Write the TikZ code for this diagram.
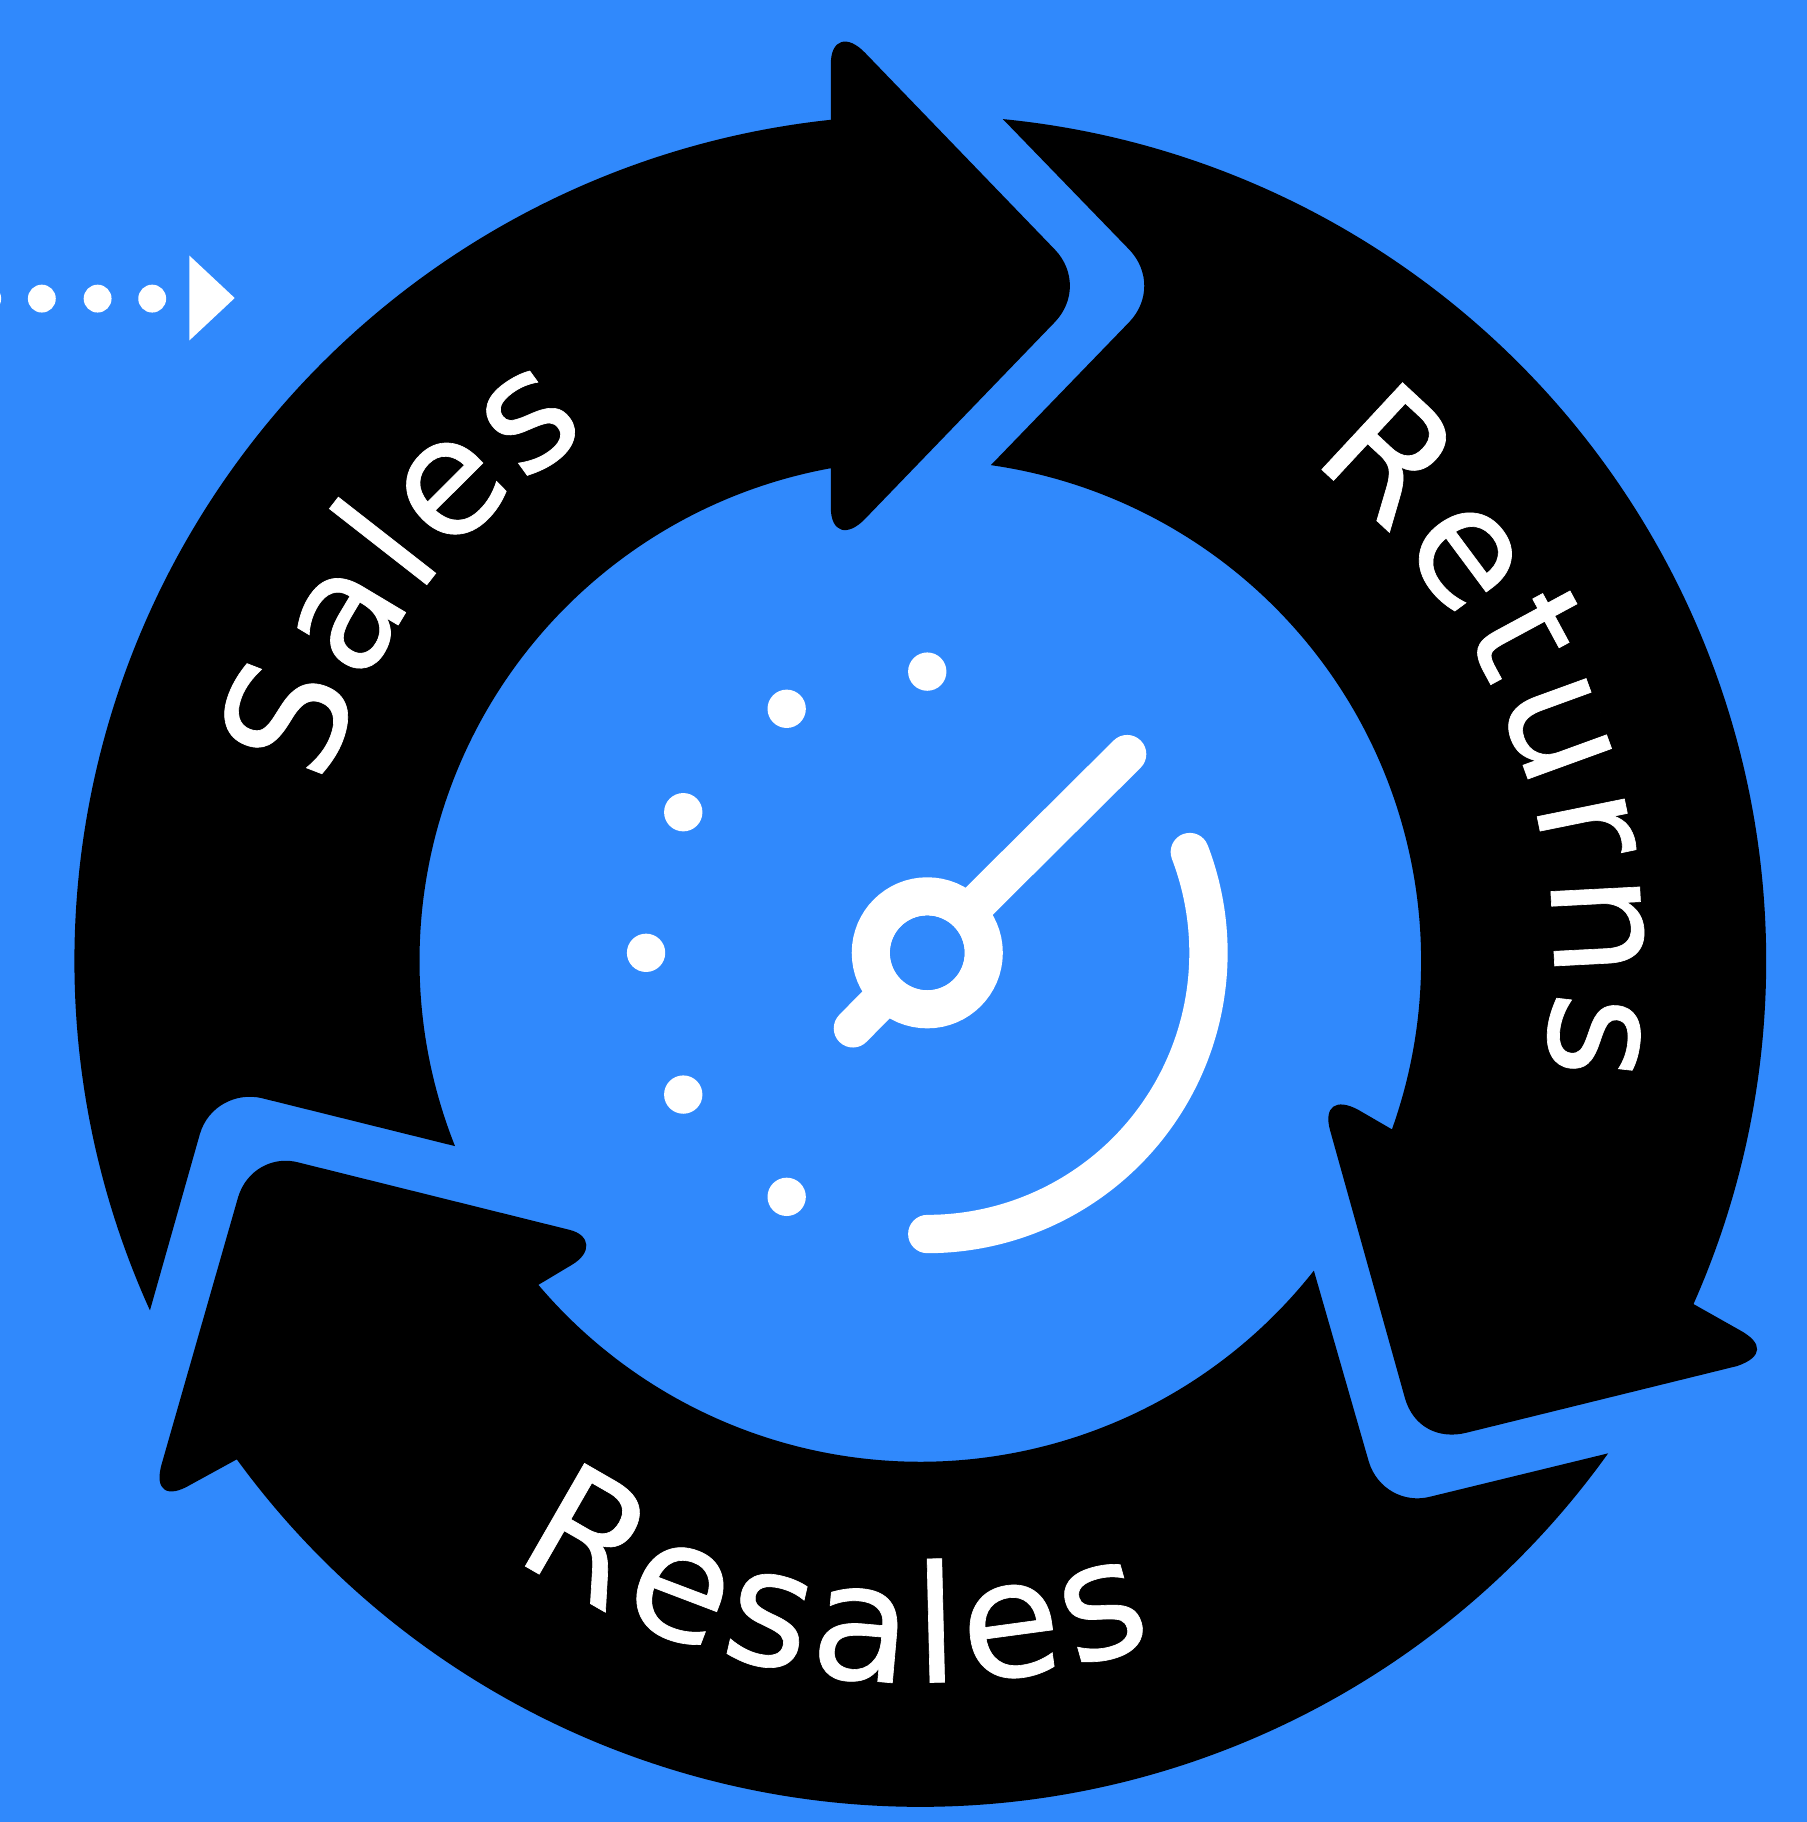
\documentclass[tikz,border=0pt]{standalone}
\usepackage{fontspec}
\usetikzlibrary{decorations.text}
\newfontfamily\lblfont[FakeBold=0.4]{DejaVu Sans}
\definecolor{bgblue}{HTML}{3089FC}
\tikzset{
  arrowshape/.style={fill=black,draw=none},
  whitedot/.style={fill=white,draw=none},
  stroke/.style={draw=white,line width=33pt,line cap=round},
}
\newcommand{\lblfmt}{|\lblfont\fontsize{140}{140}\selectfont\color{white}|}
\begin{document}
\begin{tikzpicture}[x=1pt,y=1pt]
\useasboundingbox (0,0) rectangle (1555,1568);
\fill[bgblue] (0,0) rectangle (1555,1568);
\begin{scope}[shift={(0,1568)},yscale=-1]
\coordinate (C) at (792,827);
\coordinate (H) at (798,820);
% Sales arrow
\fill[arrowshape] ([shift={(155.6:728)}]C) arc[start angle=155.6,end angle=263.93,radius=728]
  -- (715,55) .. controls (715,34) and (729,29) .. (745,46)
  -- (908,215) .. controls (925,233) and (925,259) .. (908,277)
  -- (745,446) .. controls (729,463) and (715,458) .. (715,437)
  -- ([shift={(259.7:431)}]C) arc[start angle=259.7,end angle=158.3,radius=431]
  -- (225,945) .. controls (203,940) and (179,952) .. (172,976) -- cycle;
% Returns arrow
\fill[arrowshape] ([shift={(-84.4:728)}]C) arc[start angle=-84.4,end angle=23.93,radius=728]
  -- (1497,1144.6) .. controls (1518,1156) and (1517,1168) .. (1495,1175.6)
  -- (1262,1233) .. controls (1238,1239) and (1216,1228) .. (1209,1203)
  -- (1144.6,972.6) .. controls (1139,952) and (1150,945) .. (1168.7,955)
  -- ([shift={(19.65:431)}]C) arc[start angle=19.65,end angle=-81.9,radius=431]
  -- (972,277) .. controls (989,259) and (989,233) .. (972,215) -- cycle;
% Resales arrow
\fill[arrowshape] ([shift={(35.6:728)}]C) arc[start angle=35.6,end angle=143.9,radius=728]
  -- (163.5,1278) .. controls (145,1289) and (132,1284) .. (139.4,1259)
  -- (205,1030) .. controls (212,1007) and (235,994) .. (258,1000.7)
  -- (490.5,1058.5) .. controls (508,1063) and (510,1078) .. (492,1088.6)
  -- ([shift={(139.7:431)}]C) arc[start angle=139.7,end angle=38.2,radius=431]
  -- (1178,1258) .. controls (1185,1281) and (1208,1294) .. (1231,1288) -- cycle;
% dotted arrow
\foreach \px in {-11,36,84,131} \fill[whitedot] (\px,257) circle[radius=12];
\fill[whitedot] (163,220) -- (202,256.5) -- (163,293) -- cycle;
% dial dots
\foreach \px/\py in {798/578,677/610,588/699,556/820,588/942,677/1030}
  \fill[whitedot] (\px,\py) circle[radius=16.5];
% dial
\draw[stroke] (H) ++(-64,65) -- (H);
\draw[stroke] (H) -- ++(172,-171);
\fill[bgblue] (H) circle[radius=32];
\draw[draw=white,line width=33pt] (H) circle[radius=48.5];
\fill[bgblue] (H) circle[radius=32];
\draw[stroke] ([shift={(90:242)}]H) arc[start angle=90,end angle=-21,radius=242];
\end{scope}
% labels: the centre (792,827) is (792,741) with y upwards
\path[decorate,decoration={text along path,text align={fit to path},text={\lblfmt Sales}}]
  ([shift={(-196.3:534)}]792,741) arc[start angle=-196.3,end angle=-238,radius=534];
\path[decorate,decoration={text along path,text align={fit to path},text={\lblfmt Returns}}]
  ([shift={(52.2:545)}]792,741) arc[start angle=52.2,end angle=-10.2,radius=545];
\path[decorate,decoration={text along path,text align={fit to path},text={\lblfmt Resales}}]
  ([shift={(-124.4:621)}]792,741) arc[start angle=-124.4,end angle=-71,radius=621];
\end{tikzpicture}
\end{document}
